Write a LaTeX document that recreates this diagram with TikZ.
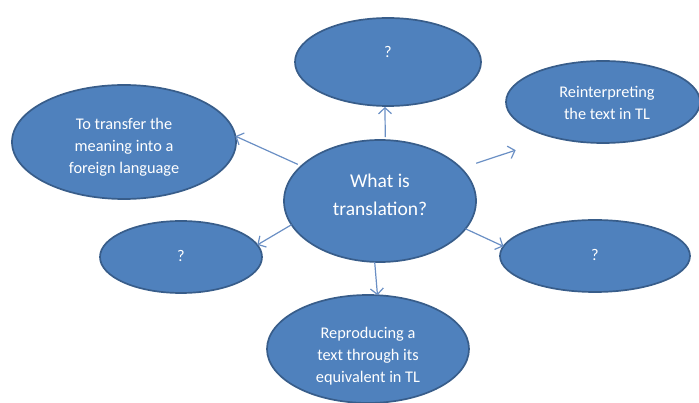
\documentclass[tikz,border=0pt]{standalone}
\usepackage{fontspec}
\setmainfont{Carlito}
\usetikzlibrary{arrows.meta,shapes.geometric}
\definecolor{fillblue}{HTML}{4F81BD}
\definecolor{edgeblue}{HTML}{385D8A}
\definecolor{arrowblue}{HTML}{6A8FC4}
\newcommand{\bubbletext}[2]{\smash{\raisebox{#1}{\begin{tabular}{@{}c@{}}#2\end{tabular}}}}
\begin{document}
\begin{tikzpicture}[x=1pt,y=-1pt,
  bubble/.style={ellipse, draw=edgeblue, line width=1.7pt, fill=fillblue, text=white,
    inner sep=0pt, outer sep=0pt, font=\fontsize{16.3}{22}\selectfont},
  link/.style={draw=arrowblue, line width=1.2pt, -{Straight Barb[length=6pt,width=13pt]}}]
\useasboundingbox (0,0) rectangle (699,403);
\node[bubble, minimum width=192pt, minimum height=122pt, font=\fontsize{19.5}{28}\selectfont]
  (c) at (380,201) {\bubbletext{-0.5pt}{What is\\translation?}};
\node[bubble, minimum width=186pt, minimum height=88pt] (t) at (388,62) {\bubbletext{5pt}{?}};
\node[bubble, minimum width=194pt, minimum height=82pt] (rt) at (603,102) {\bubbletext{-6.5pt}{\hspace*{8pt}Reinterpreting\\\hspace*{8pt}the text in TL}};
\node[bubble, minimum width=224pt, minimum height=114pt] (lt) at (124,142) {\bubbletext{-9pt}{To transfer the\\meaning into a\\foreign language}};
\node[bubble, minimum width=162pt, minimum height=72pt] (lb) at (181,257) {\bubbletext{-4pt}{?}};
\node[bubble, minimum width=190pt, minimum height=72pt] (rb) at (595,256) {\bubbletext{-4pt}{?}};
\node[bubble, minimum width=202pt, minimum height=108pt] (b) at (368,349) {\bubbletext{-11pt}{Reproducing a\\text through its\\equivalent in TL}};
\draw[link, shorten <=3pt, shorten >=1pt] (c.85) -- (t.266);
\draw[link, shorten <=4pt] (c.156) -- (lt.3);
\draw[link, shorten <=16pt, shorten >=40.6pt] (c.22) -- (rt.216);
\draw[link] (c.195) -- (lb.9);
\draw[link] (c.342) -- (rb.174);
\draw[link] (c.265) -- (b.80);
\end{tikzpicture}
\end{document}
